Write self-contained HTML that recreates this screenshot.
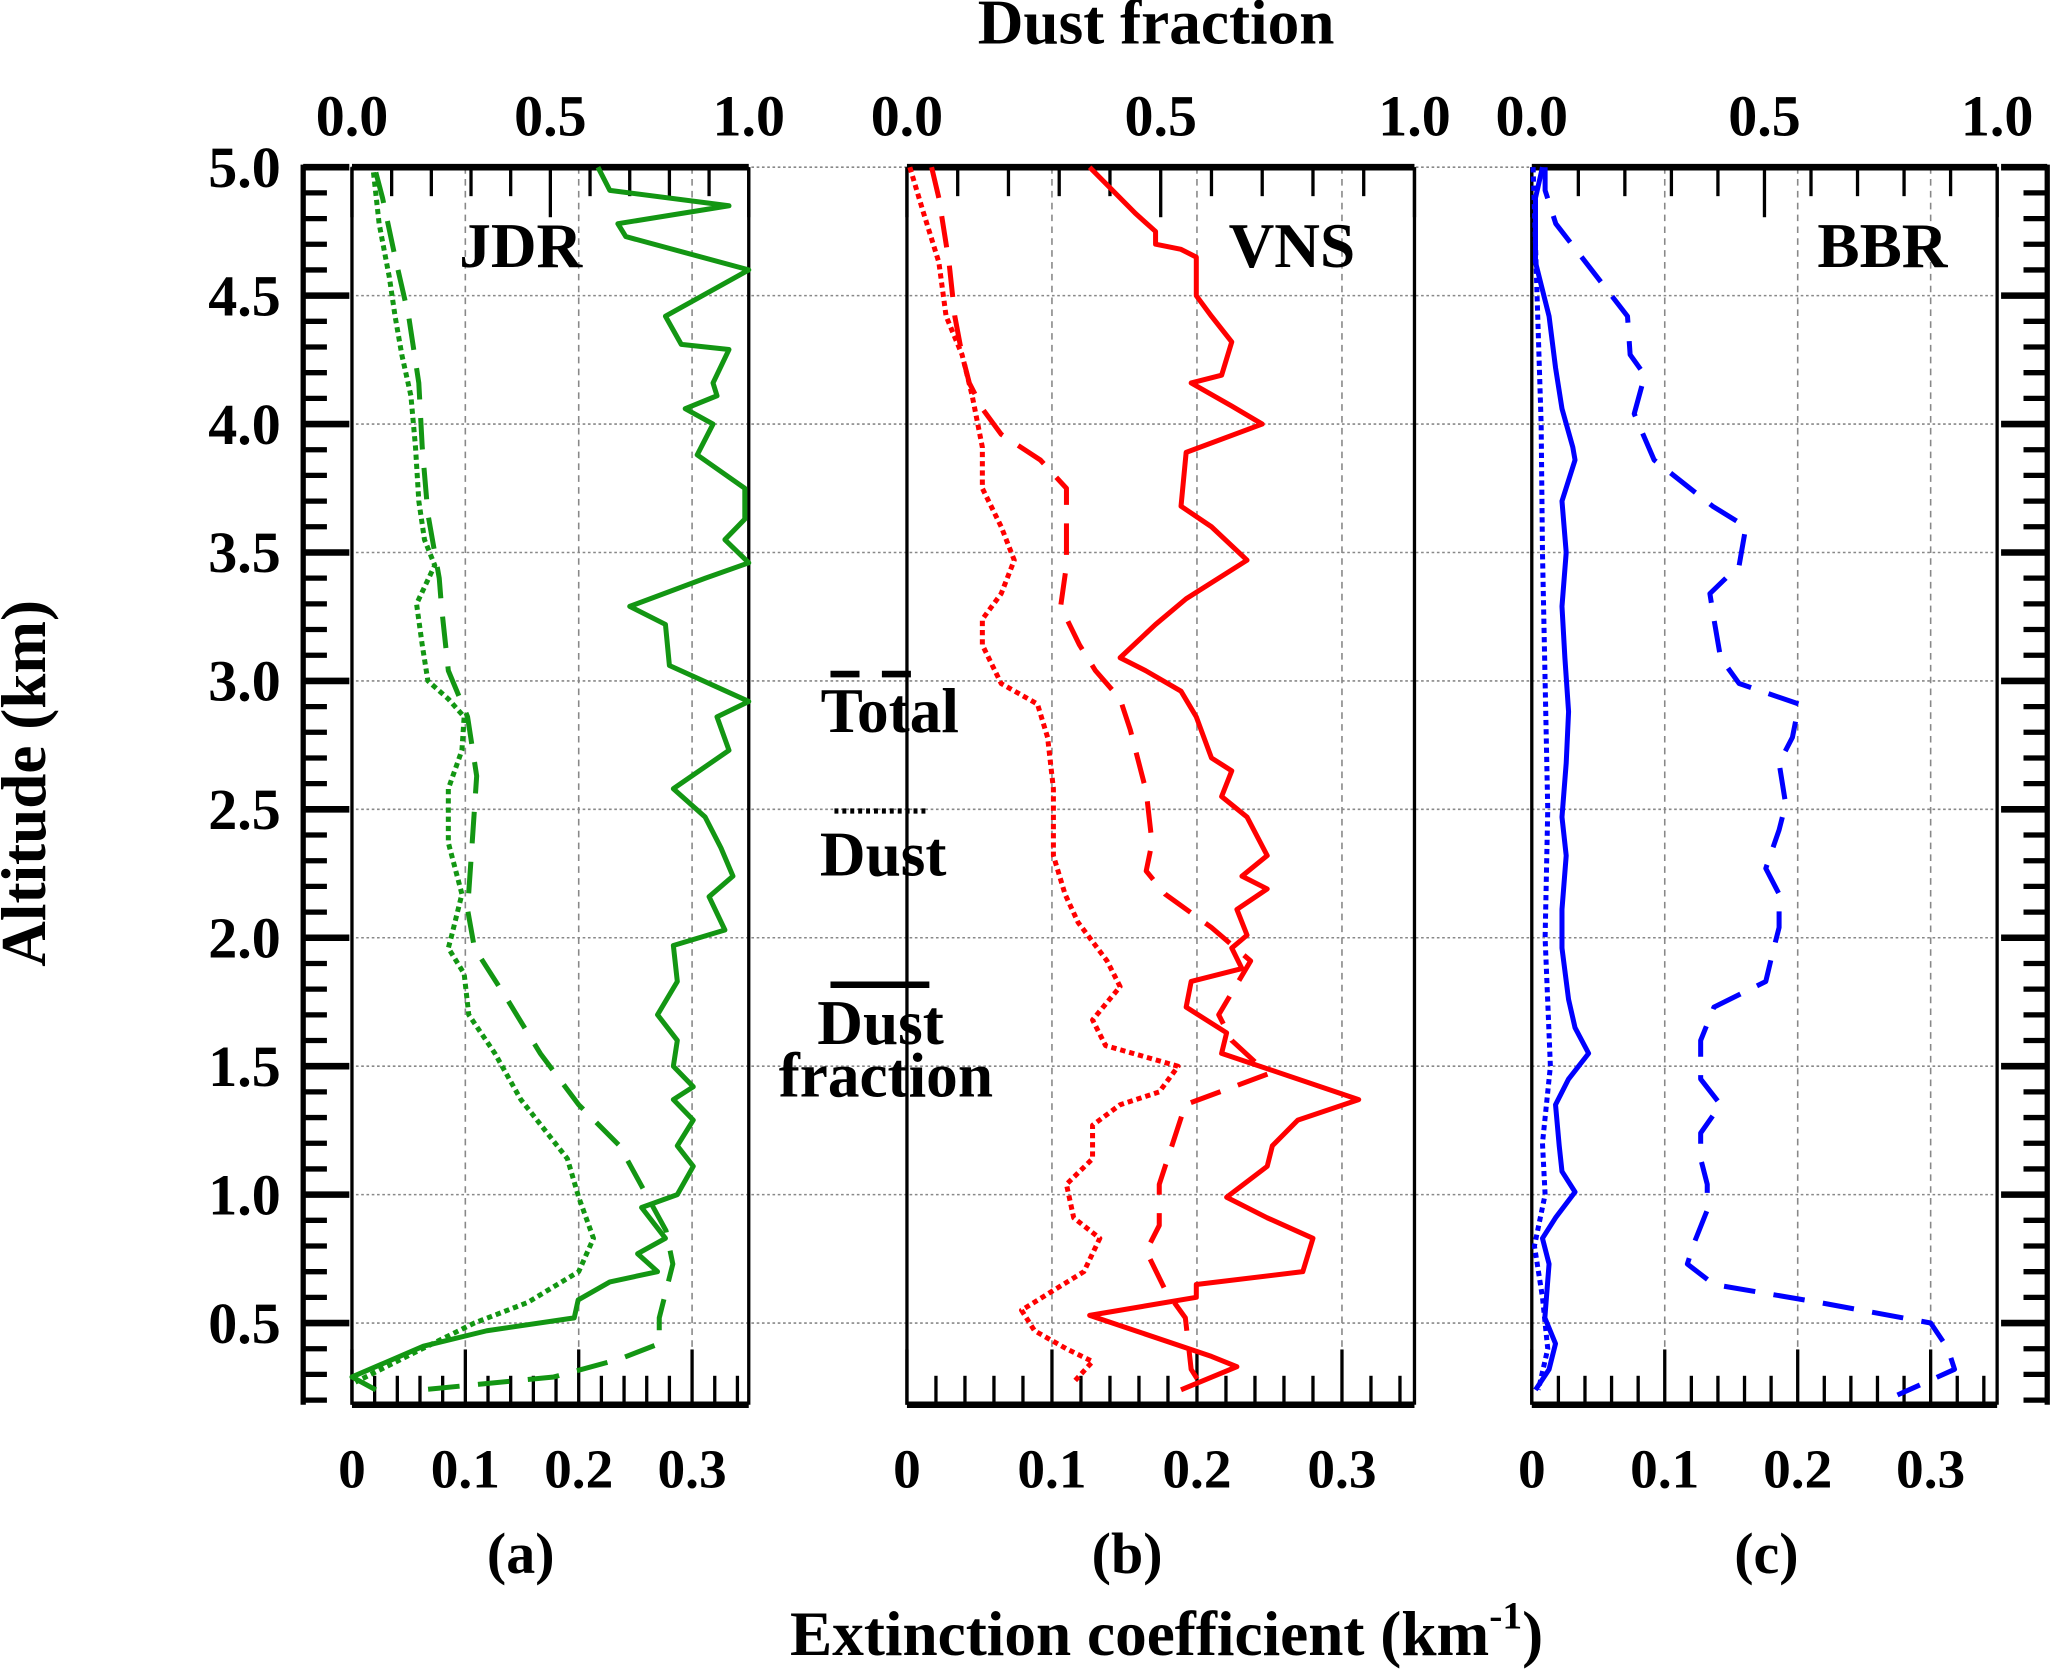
<!DOCTYPE html>
<html><head><meta charset="utf-8"><style>
html,body{margin:0;padding:0;background:#fff;}
svg{display:block;}
text{font-family:"Liberation Serif",serif;font-weight:bold;fill:#000;}
</style></head><body>
<svg id="chart" width="2067" height="1672" viewBox="0 0 1568 1270" preserveAspectRatio="none" xmlns="http://www.w3.org/2000/svg">
<g id="grid"></g>
<g id="axes"></g>
<g id="series"></g>
<text x="877" y="33" font-size="48" text-anchor="middle">Dust fraction</text>
<text transform="translate(34,595) rotate(-90)" font-size="48" text-anchor="middle">Altitude (km)</text>
<text x="885" y="1257" font-size="48" text-anchor="middle">Extinction coefficient (km<tspan font-size="30" dy="-20">-1</tspan><tspan dy="20">)</tspan></text>
<text x="395" y="203" font-size="48" text-anchor="middle">JDR</text>
<text x="980" y="203" font-size="48" text-anchor="middle">VNS</text>
<text x="1428" y="203" font-size="48" text-anchor="middle">BBR</text>
<text x="395" y="1195" font-size="44" text-anchor="middle">(a)</text>
<text x="855" y="1195" font-size="44" text-anchor="middle">(b)</text>
<text x="1340" y="1195" font-size="44" text-anchor="middle">(c)</text>
<g>
<line x1="630" y1="512" x2="705" y2="512" stroke="#000" stroke-width="5" stroke-dasharray="22,17"/>
<text x="675" y="556" font-size="48" text-anchor="middle">Total</text>
<line x1="633" y1="616" x2="705" y2="616" stroke="#000" stroke-width="4" stroke-dasharray="3,3"/>
<text x="670" y="665" font-size="48" text-anchor="middle">Dust</text>
<line x1="630" y1="748" x2="705" y2="748" stroke="#000" stroke-width="5"/>
<text x="668" y="793" font-size="48" text-anchor="middle">Dust</text>
<text x="672" y="833" font-size="48" text-anchor="middle">fraction</text>
</g>
</svg>
<script>
// Panel a (JDR)
const jdrFracAlt=[5.0,4.91,4.85,4.78,4.73,4.6,4.42,4.31,4.29,4.16,4.11,4.06,4.0,3.88,3.75,3.63,3.55,3.46,3.4,3.29,3.22,3.06,2.92,2.86,2.73,2.58,2.47,2.35,2.24,2.16,2.03,1.97,1.83,1.70,1.6,1.5,1.42,1.37,1.29,1.19,1.11,1.0,0.95,0.83,0.77,0.70,0.66,0.59,0.52,0.47,0.41,0.29,0.24];
const jdrFrac=[0.62,0.65,0.95,0.67,0.69,1.0,0.79,0.83,0.95,0.91,0.92,0.84,0.91,0.87,0.99,0.99,0.94,1.0,0.89,0.70,0.79,0.80,1.0,0.92,0.95,0.81,0.89,0.93,0.96,0.90,0.94,0.81,0.82,0.77,0.82,0.81,0.86,0.81,0.86,0.82,0.86,0.82,0.73,0.79,0.72,0.77,0.65,0.57,0.56,0.34,0.18,0.0,0.06];
const jdrTotAlt=[4.98,4.88,4.65,4.42,4.16,3.91,3.65,3.4,3.29,3.04,2.86,2.63,2.37,2.11,1.96,1.76,1.55,1.35,1.19,0.86,0.73,0.52,0.42,0.36,0.29,0.26,0.24];
const jdrTot=[0.021,0.027,0.038,0.05,0.059,0.062,0.067,0.077,0.079,0.085,0.102,0.11,0.106,0.102,0.108,0.137,0.166,0.20,0.236,0.277,0.283,0.271,0.271,0.236,0.178,0.108,0.062];
const jdrDustAlt=[4.98,4.78,4.57,4.42,4.27,4.11,3.91,3.7,3.55,3.45,3.3,3.14,3.0,2.93,2.86,2.73,2.58,2.37,2.17,2.01,1.96,1.86,1.7,1.55,1.37,1.14,0.99,0.83,0.7,0.58,0.5,0.4,0.27];
const jdrDust=[0.019,0.024,0.033,0.038,0.044,0.052,0.056,0.059,0.064,0.073,0.057,0.062,0.067,0.085,0.099,0.097,0.085,0.085,0.097,0.088,0.085,0.099,0.103,0.126,0.149,0.19,0.20,0.213,0.20,0.155,0.108,0.062,0.003];
// Panel b (VNS)
const vnsFracAlt=[5.0,4.82,4.75,4.7,4.68,4.65,4.5,4.42,4.32,4.19,4.16,4.07,4.0,3.89,3.68,3.6,3.47,3.32,3.22,3.09,3.04,2.96,2.86,2.7,2.65,2.55,2.47,2.32,2.24,2.19,2.11,2.01,1.96,1.88,1.83,1.73,1.63,1.55,1.37,1.29,1.19,1.11,0.99,0.91,0.83,0.70,0.65,0.6,0.53,0.47,0.37,0.33,0.24];
const vnsFrac=[0.36,0.45,0.49,0.49,0.54,0.57,0.57,0.60,0.64,0.62,0.56,0.64,0.70,0.55,0.54,0.60,0.67,0.55,0.49,0.42,0.47,0.54,0.57,0.60,0.64,0.62,0.67,0.71,0.66,0.71,0.65,0.67,0.64,0.66,0.56,0.55,0.63,0.62,0.89,0.77,0.72,0.71,0.63,0.71,0.80,0.78,0.57,0.57,0.36,0.45,0.60,0.65,0.54];
const vnsTotAlt=[5.0,4.88,4.63,4.42,4.27,4.16,4.06,3.96,3.86,3.75,3.45,3.29,3.14,3.04,2.93,2.81,2.57,2.37,2.26,2.17,2.04,1.91,1.7,1.6,1.47,1.35,1.04,0.88,0.78,0.63,0.52,0.32,0.24];
const vnsTot=[0.017,0.022,0.029,0.033,0.038,0.043,0.052,0.065,0.092,0.110,0.110,0.106,0.119,0.130,0.147,0.154,0.165,0.169,0.165,0.178,0.21,0.237,0.215,0.224,0.249,0.192,0.174,0.174,0.165,0.178,0.192,0.196,0.205];
const vnsDustAlt=[5.0,4.83,4.63,4.42,4.27,4.11,3.91,3.75,3.6,3.47,3.34,3.24,3.14,2.99,2.91,2.78,2.58,2.32,2.17,2.06,1.91,1.81,1.68,1.58,1.5,1.4,1.35,1.27,1.14,1.04,0.91,0.83,0.7,0.55,0.47,0.4,0.35,0.27];
const vnsDust=[0.002,0.011,0.022,0.027,0.038,0.045,0.052,0.052,0.065,0.074,0.065,0.052,0.052,0.065,0.09,0.097,0.101,0.101,0.109,0.118,0.138,0.147,0.128,0.137,0.187,0.174,0.147,0.128,0.128,0.110,0.115,0.133,0.122,0.079,0.088,0.110,0.128,0.115];
// Panel c (BBR)
const bbrFracAlt=[5.0,4.88,4.63,4.42,4.22,4.06,3.91,3.86,3.7,3.5,3.29,3.09,2.88,2.68,2.47,2.32,2.11,1.96,1.76,1.65,1.55,1.45,1.35,1.19,1.09,1.01,0.91,0.83,0.73,0.52,0.42,0.32,0.24];
const bbrFrac=[0.023,0.008,0.008,0.037,0.051,0.065,0.088,0.093,0.065,0.074,0.065,0.071,0.079,0.074,0.065,0.074,0.065,0.065,0.079,0.093,0.122,0.079,0.051,0.059,0.065,0.093,0.051,0.023,0.037,0.028,0.051,0.037,0.008];
const bbrTotAlt=[5.0,4.91,4.78,4.68,4.42,4.27,4.19,4.04,3.86,3.68,3.6,3.45,3.34,3.24,3.09,2.99,2.91,2.78,2.68,2.52,2.42,2.27,2.17,2.04,1.94,1.83,1.73,1.6,1.45,1.35,1.24,1.14,1.04,0.94,0.81,0.73,0.65,0.58,0.5,0.4,0.32,0.22];
const bbrTot=[0.01,0.01,0.018,0.033,0.072,0.074,0.085,0.077,0.092,0.136,0.161,0.156,0.134,0.137,0.142,0.156,0.201,0.196,0.186,0.191,0.186,0.176,0.186,0.186,0.181,0.176,0.137,0.127,0.127,0.142,0.127,0.127,0.132,0.132,0.122,0.117,0.137,0.216,0.30,0.313,0.318,0.275];
const bbrDustAlt=[5.0,4.5,4.0,3.5,3.0,2.5,2.0,1.5,1.2,1.0,0.8,0.6,0.4,0.24];
const bbrDust=[0.001,0.004,0.007,0.008,0.010,0.012,0.010,0.014,0.008,0.010,0.002,0.008,0.012,0.005];
// Axis tick labels
const altTicks=[5.0,4.5,4.0,3.5,3.0,2.5,2.0,1.5,1.0,0.5];
const extTicks=[0,0.1,0.2,0.3];
const fracTicks=[0.0,0.5,1.0];

const NS='http://www.w3.org/2000/svg';
const Y0=127,PXKM=195.1,YBOT=1067;
function yAlt(a){return Y0+(5-a)*PXKM;}
const panels=[
 {key:'a',left:267,right:568,color:'#139613',fa:jdrFracAlt,f:jdrFrac,ta:jdrTotAlt,t:jdrTot,da:jdrDustAlt,d:jdrDust},
 {key:'b',left:688,right:1073,color:'#ff0000',fa:vnsFracAlt,f:vnsFrac,ta:vnsTotAlt,t:vnsTot,da:vnsDustAlt,d:vnsDust},
 {key:'c',left:1162,right:1515,color:'#0000ff',fa:bbrFracAlt,f:bbrFrac,ta:bbrTotAlt,t:bbrTot,da:bbrDustAlt,d:bbrDust}
];
function mk(tag,attrs,parent){const e=document.createElementNS(NS,tag);for(const k in attrs)e.setAttribute(k,attrs[k]);parent.appendChild(e);return e;}
const grid=document.getElementById('grid'),axes=document.getElementById('axes'),series=document.getElementById('series');

altTicks.forEach(a=>{
 const l=mk('line',{x1:230,x2:1553,y1:yAlt(a),y2:yAlt(a),stroke:'#888','stroke-width':1.2,'stroke-dasharray':'2,2'},grid);
 
 
});
[[230,1],[1553,-1]].forEach(([x,dir])=>{
 const l=mk('line',{x1:x,x2:x,y1:Y0-2,y2:YBOT,stroke:'#000','stroke-width':4},axes);
 
 
 for(let i=0;i<=48;i++){const a=5-i*0.1;if(a<0.17)break;const maj=Math.abs(a*2-Math.round(a*2))<1e-6;
  mk('line',{x1:x,x2:x+dir*(maj?35:18),y1:yAlt(a),y2:yAlt(a),stroke:'#000','stroke-width':maj?5:4},axes);}
});
altTicks.forEach(a=>{
 const t=mk('text',{x:213,y:yAlt(a)+15,'font-size':44,'text-anchor':'end'},axes);
 t.textContent=a.toFixed(1);
 
 
});

function xE(p,e){return p.left+e/0.35*(p.right-p.left);}
function xF(p,f){return p.left+f*(p.right-p.left);}
function poly(p,alts,vals,fx,dash,w,name){
 const pts=alts.map((a,i)=>fx(p,vals[i]).toFixed(1)+','+yAlt(a).toFixed(1)).join(' ');
 const el=mk('polyline',{points:pts,fill:'none',stroke:p.color,'stroke-width':w,'stroke-linejoin':'round'},series);
 if(dash)el.setAttribute('stroke-dasharray',dash);
 
 
}
panels.forEach(p=>{
 [0.1,0.2,0.3].forEach(e=>{
  const l=mk('line',{x1:xE(p,e),x2:xE(p,e),y1:Y0,y2:YBOT,stroke:'#888','stroke-width':1.2,'stroke-dasharray':'5,4'},grid);
  
  
 });
 mk('line',{x1:p.left,x2:p.right,y1:Y0,y2:Y0,stroke:'#000','stroke-width':5},axes);
 mk('line',{x1:p.left,x2:p.right,y1:YBOT,y2:YBOT,stroke:'#000','stroke-width':5},axes);
 mk('line',{x1:p.left,x2:p.left,y1:Y0,y2:YBOT,stroke:'#000','stroke-width':2.5},axes);
 mk('line',{x1:p.right,x2:p.right,y1:Y0,y2:YBOT,stroke:'#000','stroke-width':2.5},axes);
 for(let i=0;i<=17;i++){const e=i*0.02,maj=i%5===0;
  mk('line',{x1:xE(p,e),x2:xE(p,e),y1:YBOT,y2:YBOT-(maj?42:22),stroke:'#000','stroke-width':2.5},axes);}
 for(let i=0;i<=10;i++){const f=i*0.1,maj=i%5===0;
  mk('line',{x1:xF(p,f),x2:xF(p,f),y1:Y0,y2:Y0+(maj?38:22),stroke:'#000','stroke-width':2.5},axes);}
 extTicks.forEach(e=>{
  const t=mk('text',{x:xE(p,e),y:1130,'font-size':42,'text-anchor':'middle'},axes);
  t.textContent=e===0?'0':e.toFixed(1);
  
  
 });
 fracTicks.forEach(f=>{
  const t=mk('text',{x:xF(p,f),y:103,'font-size':44,'text-anchor':'middle'},axes);
  t.textContent=f.toFixed(1);
  
  
 });
 poly(p,p.ta,p.t,xE,'24,14',3.8,'total-extinction-'+p.key);
 poly(p,p.da,p.d,xE,'4,3',3.8,'dust-extinction-'+p.key);
 poly(p,p.fa,p.f,xF,null,3.8,'dust-fraction-'+p.key);
});
</script>
</body></html>
